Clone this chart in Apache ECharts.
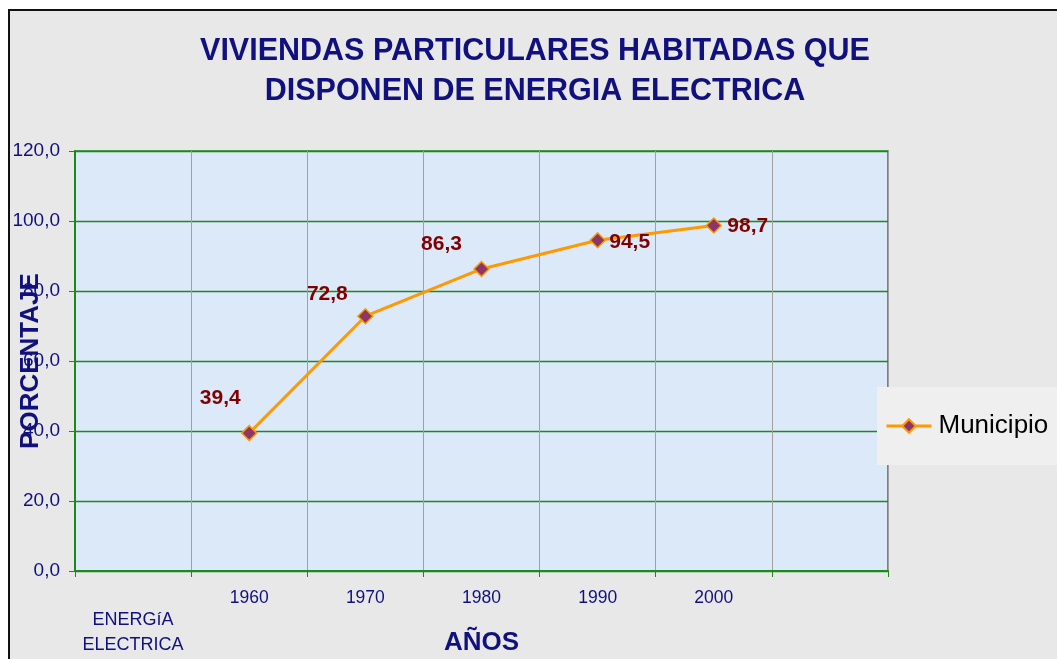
<!DOCTYPE html>
<html>
<head>
<meta charset="utf-8">
<script src="https://cdn.jsdelivr.net/npm/echarts@6/dist/echarts.min.js"></script>
<style>
  html, body { margin: 0; padding: 0; background: #fff; }
  .frame {
    position: absolute; left: 8px; top: 9px; right: 0; bottom: 0;
    border-left: 2px solid #111; border-top: 2px solid #111;
    background: #e8e8e8;
  }
  #chart { position: absolute; left: 0; top: 0; width: 1057px; height: 659px; }
</style>
</head>
<body>
<div class="frame"></div>
<div id="chart"></div>
<script>
// categorias del eje X (primera: rotulo del grupo, ultima vacia)
const categories = ["ENERGíA\nELECTRICA", "1960", "1970", "1980", "1990", "2000", ""];
// porcentaje de viviendas con energia electrica (Municipio)
const municipio = [null, 39.4, 72.8, 86.3, 94.5, 98.7, null];
const yTicks = { min: 0, max: 120, interval: 20 };
// desplazamiento de cada etiqueta respecto a su punto (solo estilo)
const labelOffsets = [null, [-29, -35], [-38, -22], [-40, -25], [32, 2], [34, 1]];

const navy = "#10107f";
const green = "#1b8a1b";
const font = "Liberation Sans";

const chart = echarts.init(document.getElementById("chart"));

const seriesData = municipio.map((v, i) => {
  if (v === null) return null;
  return {
    value: v,
    label: { offset: labelOffsets[i] },
  };
});

const option = {
  backgroundColor: "transparent",
  title: {
    text: "VIVIENDAS PARTICULARES HABITADAS QUE\nDISPONEN DE ENERGIA ELECTRICA",
    left: 530,
    textAlign: "center",
    top: 27,
    padding: 5,
    textStyle: {
      fontFamily: font,
      fontSize: 30.5,
      fontWeight: "bold",
      color: navy,
      lineHeight: 40,
    },
  },
  legend: {
    left: 877,
    top: 387,
    padding: [26, 20, 26, 8],
    backgroundColor: "#efefef",
    itemWidth: 45,
    itemHeight: 17,
    itemGap: 0,
    lineStyle: { width: 3 },
    textStyle: { fontFamily: font, fontSize: 26, color: "#000", padding: [0, 0, 0, 2] },
    data: ["Municipio"],
  },
  grid: {
    left: 75,
    top: 151,
    width: 813,
    height: 420,
    containLabel: false,
    outerBoundsMode: "none",
    show: true,
    backgroundColor: "#dbe9f8",
    borderColor: green,
    borderWidth: 1.5,
  },
  xAxis: {
    type: "category",
    data: categories,
    boundaryGap: true,
    name: "AÑOS",
    nameLocation: "middle",
    nameGap: 59,
    nameMoveOverlap: false,
    nameTextStyle: {
      fontFamily: font,
      fontSize: 26,
      fontWeight: "bold",
      color: navy,
    },
    axisLine: { lineStyle: { color: green, width: 2 } },
    axisTick: { show: true, length: 6, lineStyle: { color: green } },
    splitLine: { show: true, lineStyle: { color: "#a0a0a0", width: 1 } },
    axisLabel: {
      interval: 0,
      margin: 17,
      fontFamily: font,
      fontSize: 17.5,
      color: navy,
      lineHeight: 20,
      formatter: (v, i) => {
        if (i !== 0) return v;
        const parts = v.split("\n");
        return "{s| }\n{g|" + parts[0] + "}\n{g|" + parts[1] + "}";
      },
      rich: {
        s: { fontSize: 10, lineHeight: 20, height: 20 },
        g: { fontFamily: font, fontSize: 18, color: navy, lineHeight: 25 },
      },
    },
  },
  yAxis: {
    type: "value",
    min: yTicks.min,
    max: yTicks.max,
    interval: yTicks.interval,
    name: "PORCENTAJE",
    nameLocation: "middle",
    nameGap: 31,
    nameMoveOverlap: false,
    nameTextStyle: {
      fontFamily: font,
      fontSize: 26,
      fontWeight: "bold",
      color: navy,
    },
    axisLine: { show: true, lineStyle: { color: green, width: 2 } },
    axisTick: { show: true, length: 6, lineStyle: { color: green } },
    splitLine: { show: true, lineStyle: { color: [green], width: 1.3 } },
    axisLabel: {
      margin: 15,
      fontFamily: font,
      fontSize: 19,
      color: navy,
      formatter: (v) => v.toFixed(1).replace(".", ","),
    },
  },
  series: [
    {
      name: "Municipio",
      type: "line",
      data: seriesData,
      symbol: "diamond",
      symbolSize: 15,
      itemStyle: { color: "#8e3567", borderColor: "#ff9900", borderWidth: 1.5 },
      lineStyle: { color: "#ff9900", width: 3 },
      label: {
        show: true,
        position: "inside",
        align: "center",
        verticalAlign: "middle",
        fontFamily: font,
        fontSize: 21,
        fontWeight: "bold",
        color: "#800000",
        formatter: (p) => p.value.toFixed(1).replace(".", ","),
      },
    },
  ],
};

chart.setOption(option);
</script>
</body>
</html>
